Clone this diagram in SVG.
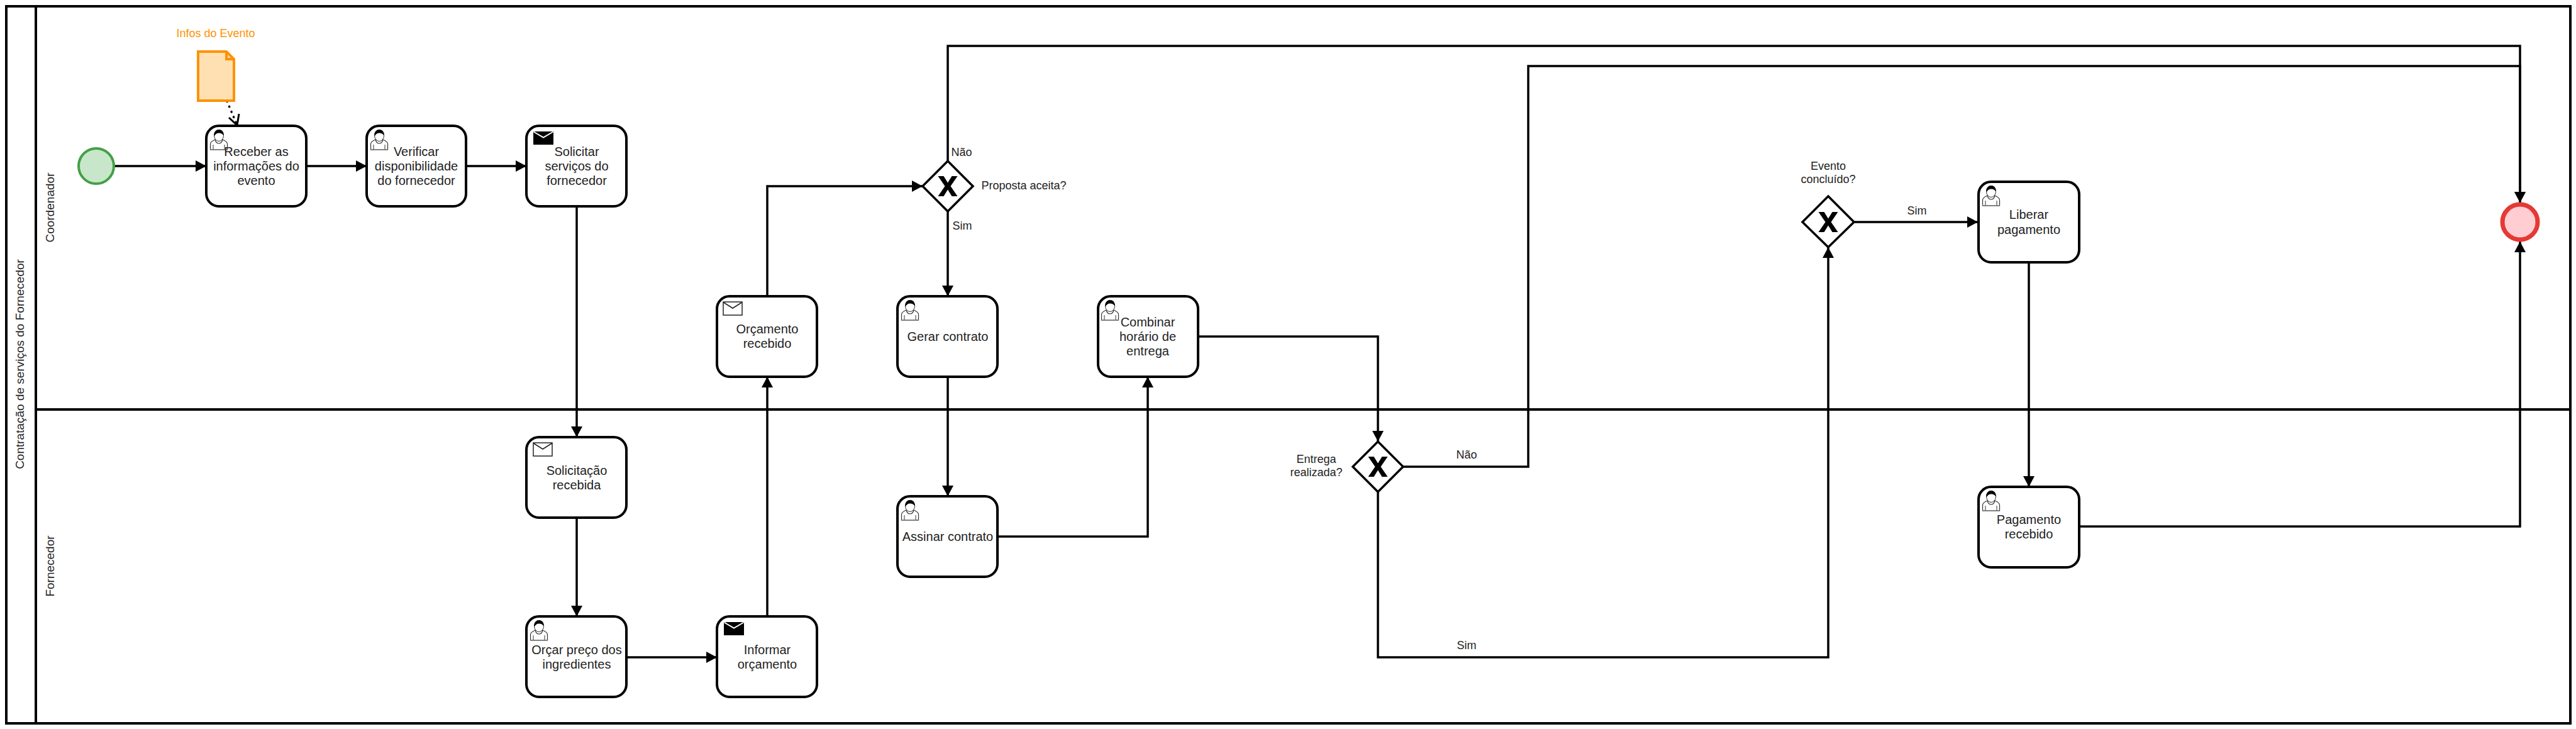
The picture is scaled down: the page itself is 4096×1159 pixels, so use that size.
<svg xmlns="http://www.w3.org/2000/svg" width="4096" height="1159" viewBox="0 0 4096 1159">
<style>
text{font-family:"Liberation Sans",Arial,sans-serif;fill:#222;text-anchor:middle}
.t{font-size:20px}
.l{font-size:18px}
.lane{font-size:19px}
.frame{fill:none;stroke:#000;stroke-width:4}
.task{fill:#fff;stroke:#000;stroke-width:4}
.gw{fill:#fff;stroke:#000;stroke-width:3.5}
.c{fill:none;stroke:#000;stroke-width:3.5;stroke-linejoin:miter}
</style>
<defs>
<marker id="arrow" markerUnits="userSpaceOnUse" markerWidth="20" markerHeight="20" refX="17" refY="9" orient="auto" viewBox="0 0 20 18"><path d="M0 0L17 9L0 18Z" fill="#000"/></marker>
<g id="user">
<path d="M0.500 32V23C0.500 19 5 17.500 9 15.500H19C23 17.500 27.500 19 27.500 23V32Z" fill="#fff" stroke="#333" stroke-width="1.200"/>
<path d="M8 16C9 20 11 22 14 22C17 22 19 20 20 16" fill="none" stroke="#333" stroke-width="1.200"/>
<path d="M5 32V24M23 32V24" stroke="#333" stroke-width="1"/>
<path d="M0 32H28" stroke="#777" stroke-width="1.400"/>
<ellipse cx="14" cy="9.500" rx="7.500" ry="9" fill="#fff" stroke="#333" stroke-width="1"/>
<path d="M6.500 11C5.500 4 9 0 14 0C19 0 22.500 4 21.500 10C20 6.500 17 5.500 14 5.500C10.500 5.500 8 7.500 6.500 11Z" fill="#000"/>
</g>
<g id="mail-send"><rect x="0" y="0" width="32" height="21" fill="#000"/><path d="M0.500 0.500L16 9.500L31.500 0.500" fill="none" stroke="#fff" stroke-width="2"/></g>
<g id="mail-recv"><rect x="0" y="0" width="30" height="21" fill="#fff" stroke="#222" stroke-width="1.500"/><path d="M0 0.500L15 10L30 0.500" fill="none" stroke="#222" stroke-width="1.500"/></g>
<path id="xmark" d="M-15.500 -16H-6.500L0 -5.500L6.500 -16H15.500L4.500 0L15.500 16H6.500L0 5.500L-6.500 16H-15.500L-4.500 0Z" fill="#000"/>
</defs>
<rect width="4096" height="1159" fill="#fff"/>
<g id="pool">
<rect class="frame" x="10" y="10" width="4077" height="1140"/>
<path class="frame" d="M57 10V1150M57 651H4087"/>
<text class="lane" transform="translate(38 579) rotate(-90)">Contratação de serviços do Fornecedor</text>
<text class="lane" transform="translate(86 330) rotate(-90)">Coordenador</text>
<text class="lane" transform="translate(86 900) rotate(-90)">Fornecedor</text>
</g>
<g id="connectors">
<path class="c" marker-end="url(#arrow)" d="M182 264H328"/>
<path class="c" marker-end="url(#arrow)" d="M487 264H583"/>
<path class="c" marker-end="url(#arrow)" d="M741 264H837"/>
<path class="c" marker-end="url(#arrow)" d="M917 328V695"/>
<path class="c" marker-end="url(#arrow)" d="M917 823V980"/>
<path class="c" marker-end="url(#arrow)" d="M996 1045H1140"/>
<path class="c" marker-end="url(#arrow)" d="M1220 980V599"/>
<path class="c" marker-end="url(#arrow)" d="M1220 471V296H1467"/>
<path class="c" marker-end="url(#arrow)" d="M1507 336V471"/>
<path class="c" marker-end="url(#arrow)" d="M1507 599V789"/>
<path class="c" marker-end="url(#arrow)" d="M1586 853H1825V599"/>
<path class="c" marker-end="url(#arrow)" d="M1905 535H2191V702"/>
<path class="c" marker-end="url(#arrow)" d="M1507 256V73H4007V322"/>
<path class="c" marker-end="url(#arrow)" d="M2231 742H2430V105H4007V322"/>
<path class="c" marker-end="url(#arrow)" d="M2191 782V1045H2907V393"/>
<path class="c" marker-end="url(#arrow)" d="M2949 353H3145"/>
<path class="c" marker-end="url(#arrow)" d="M3226 417V774"/>
<path class="c" marker-end="url(#arrow)" d="M3306 837H4007V384"/>
<path id="association" fill="none" stroke="#000" stroke-width="3.500" stroke-dasharray="0.500 8.500" stroke-linecap="round" d="M361 161L377 199"/>
<path fill="none" stroke="#000" stroke-width="3" d="M364 187L377 199L380 181"/>
<text class="l" x="1529" y="248">Não</text>
<text class="l" x="1530" y="365">Sim</text>
<text class="l" x="2332" y="729">Não</text>
<text class="l" x="2332" y="1032">Sim</text>
<text class="l" x="3048" y="341">Sim</text>
</g>
<g id="data-object">
<path d="M315 82H360L372 94V160H315Z" fill="#ffe0b2" stroke="#ff9100" stroke-width="4"/>
<path d="M360 82V94H372" fill="none" stroke="#ff9100" stroke-width="4"/>
<text class="l" x="343" y="59" style="fill:#ff9100">Infos do Evento</text>
</g>
<g id="start-event"><circle cx="153" cy="264" r="28" fill="#c8e6c9" stroke="#43a047" stroke-width="4"/></g>
<g id="end-event"><circle cx="4007" cy="353" r="28" fill="#ffcdd2" stroke="#e53935" stroke-width="7"/></g>
<g id="task-receber"><rect class="task" x="328" y="200" width="159" height="128" rx="20"/><use href="#user" x="334" y="206"/><text class="t" x="407.500" y="248">Receber as</text><text class="t" x="407.500" y="271">informações do</text><text class="t" x="407.500" y="294">evento</text></g>
<g id="task-verificar"><rect class="task" x="583" y="200" width="158" height="128" rx="20"/><use href="#user" x="589" y="206"/><text class="t" x="662" y="248">Verificar</text><text class="t" x="662" y="271">disponibilidade</text><text class="t" x="662" y="294">do fornecedor</text></g>
<g id="task-solicitar"><rect class="task" x="837" y="200" width="159" height="128" rx="20"/><use href="#mail-send" x="848" y="209"/><text class="t" x="917" y="248">Solicitar</text><text class="t" x="917" y="271">serviços do</text><text class="t" x="917" y="294">fornecedor</text></g>
<g id="task-orcamento-recebido"><rect class="task" x="1140" y="471" width="159" height="128" rx="20"/><use href="#mail-recv" x="1150" y="480"/><text class="t" x="1220" y="530">Orçamento</text><text class="t" x="1220" y="553">recebido</text></g>
<g id="task-gerar"><rect class="task" x="1427" y="471" width="159" height="128" rx="20"/><use href="#user" x="1433" y="477"/><text class="t" x="1507" y="542">Gerar contrato</text></g>
<g id="task-combinar"><rect class="task" x="1746" y="471" width="159" height="128" rx="20"/><use href="#user" x="1751" y="477"/><text class="t" x="1825" y="519">Combinar</text><text class="t" x="1825" y="542">horário de</text><text class="t" x="1825" y="565">entrega</text></g>
<g id="task-solicitacao"><rect class="task" x="837" y="695" width="159" height="128" rx="20"/><use href="#mail-recv" x="848" y="704"/><text class="t" x="917" y="755">Solicitação</text><text class="t" x="917" y="778">recebida</text></g>
<g id="task-orcar"><rect class="task" x="837" y="980" width="159" height="128" rx="20"/><use href="#user" x="843" y="986"/><text class="t" x="917" y="1040">Orçar preço dos</text><text class="t" x="917" y="1063">ingredientes</text></g>
<g id="task-informar"><rect class="task" x="1140" y="980" width="159" height="128" rx="20"/><use href="#mail-send" x="1151" y="989"/><text class="t" x="1220" y="1040">Informar</text><text class="t" x="1220" y="1063">orçamento</text></g>
<g id="task-assinar"><rect class="task" x="1427" y="789" width="159" height="128" rx="20"/><use href="#user" x="1433" y="795"/><text class="t" x="1507" y="860">Assinar contrato</text></g>
<g id="task-liberar"><rect class="task" x="3146" y="289" width="160" height="128" rx="20"/><use href="#user" x="3152" y="295"/><text class="t" x="3226" y="348">Liberar</text><text class="t" x="3226" y="372">pagamento</text></g>
<g id="task-pagamento"><rect class="task" x="3146" y="774" width="160" height="128" rx="20"/><use href="#user" x="3152" y="780"/><text class="t" x="3226" y="833">Pagamento</text><text class="t" x="3226" y="856">recebido</text></g>
<g id="gateway-proposta"><path class="gw" d="M1507 256L1547 296L1507 336L1467 296Z"/><use href="#xmark" x="1507" y="296"/><text class="l" x="1628" y="301">Proposta aceita?</text></g>
<g id="gateway-entrega"><path class="gw" d="M2191 702L2231 742L2191 782L2151 742Z"/><use href="#xmark" x="2191" y="742"/><text class="l" x="2093" y="736">Entrega</text><text class="l" x="2093" y="757">realizada?</text></g>
<g id="gateway-evento"><path class="gw" d="M2907 312L2948 353L2907 393L2866 353Z"/><use href="#xmark" x="2907" y="353"/><text class="l" x="2907" y="270">Evento</text><text class="l" x="2907" y="291">concluído?</text></g>
</svg>
